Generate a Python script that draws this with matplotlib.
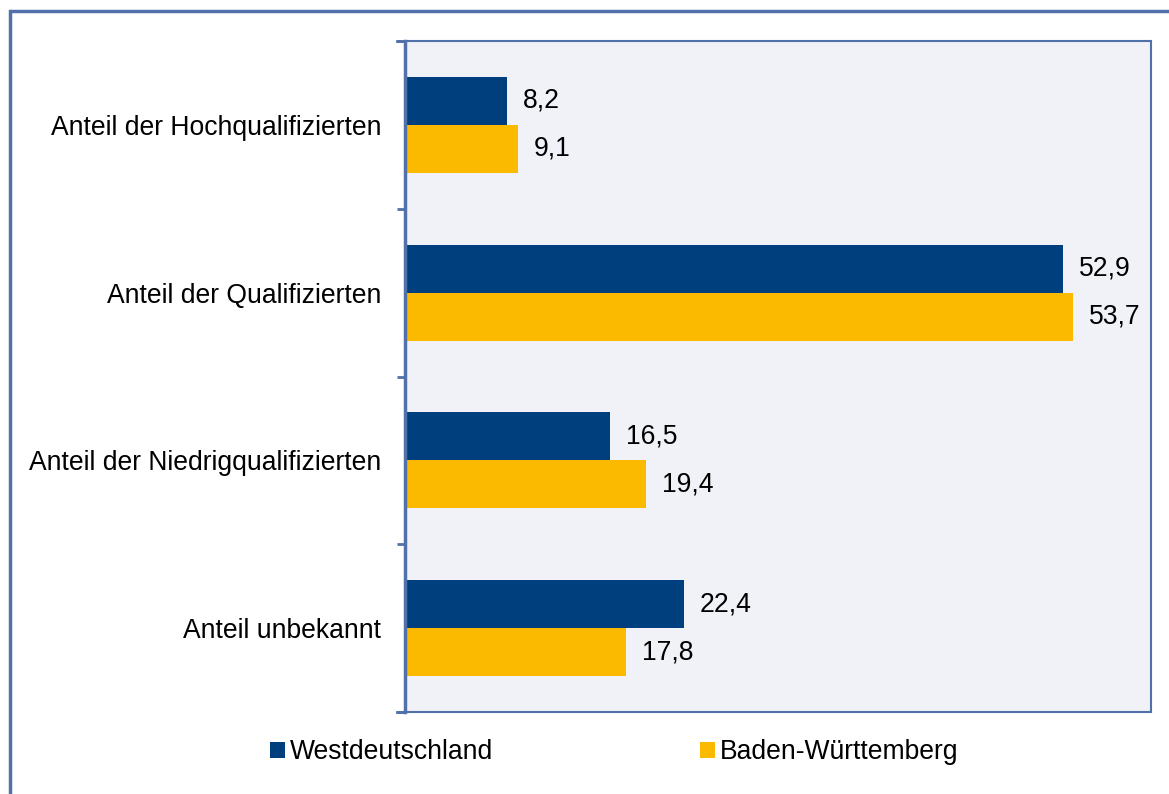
import matplotlib.pyplot as plt
from matplotlib.patches import Rectangle
import numpy as np

# Daten
kategorien = ["Anteil der Hochqualifizierten", "Anteil der Qualifizierten",
              "Anteil der Niedrigqualifizierten", "Anteil unbekannt"]
west = [8.2, 52.9, 16.5, 22.4]
bw = [9.1, 53.7, 19.4, 17.8]
serien = ["Westdeutschland", "Baden-Württemberg"]

blau = "#003F7E"
gelb = "#FBBA00"
rahmen = "#5270AA"
fs = 19.1

plt.rcParams['font.family'] = ['Liberation Sans', 'DejaVu Sans']

fig = plt.figure(figsize=(11.69, 7.94), dpi=100)
W, H = 1169, 794
ax = fig.add_axes([405 / W, 1 - 712 / H, (1151 - 405) / W, (712 - 41) / H])
ax.set_facecolor("#F0F2F8")

y = np.arange(len(kategorien))
h = 1 / 3.5
b1 = ax.barh(y - h / 2, west, height=h, color=blau, label=serien[0])
b2 = ax.barh(y + h / 2, bw, height=h, color=gelb, label=serien[1])

for bars, vals in ((b1, west), (b2, bw)):
    for rect, v in zip(bars, vals):
        ax.annotate(f"{v:.1f}".replace(".", ","),
                    (rect.get_width(), rect.get_y() + rect.get_height() / 2),
                    xytext=(11.5, 0), textcoords="offset points",
                    va="center", ha="left", fontsize=fs)

ax.set_xlim(0, 60)
ax.set_ylim(3.5, -0.5)
ax.set_xticks([])
ax.set_yticks(y, kategorien, fontsize=fs)
ax.set_yticks(np.arange(-0.5, 4, 1), minor=True)
ax.tick_params(axis="y", which="major", length=0, pad=17)
ax.tick_params(axis="y", which="minor", length=6, width=2, color=rahmen)
for s in ax.spines.values():
    s.set_color(rahmen)
    s.set_linewidth(1.5)
ax.spines["left"].set_linewidth(2.5)

# Achsenlinie unten/oben etwas nach links verlängert
fig.add_artist(plt.Line2D([397 / W, 405 / W], [1 - 712 / H] * 2, color=rahmen, lw=2))
fig.add_artist(plt.Line2D([397 / W, 405 / W], [1 - 41 / H] * 2, color=rahmen, lw=2))

# äußerer Rahmen
fig.add_artist(Rectangle((10 / W, -0.05), 1.1, 1 - 11 / H + 0.05, transform=fig.transFigure,
                         fill=False, edgecolor=rahmen, lw=2.5))

fig.legend(handles=[b1, b2], loc="center left", bbox_to_anchor=(246 / W, 1 - 752 / H),
           ncol=2, frameon=False, fontsize=fs, handlelength=0.56, handleheight=0.56,
           handletextpad=0.2, columnspacing=7.8)

fig.savefig("out.png", dpi=100)
